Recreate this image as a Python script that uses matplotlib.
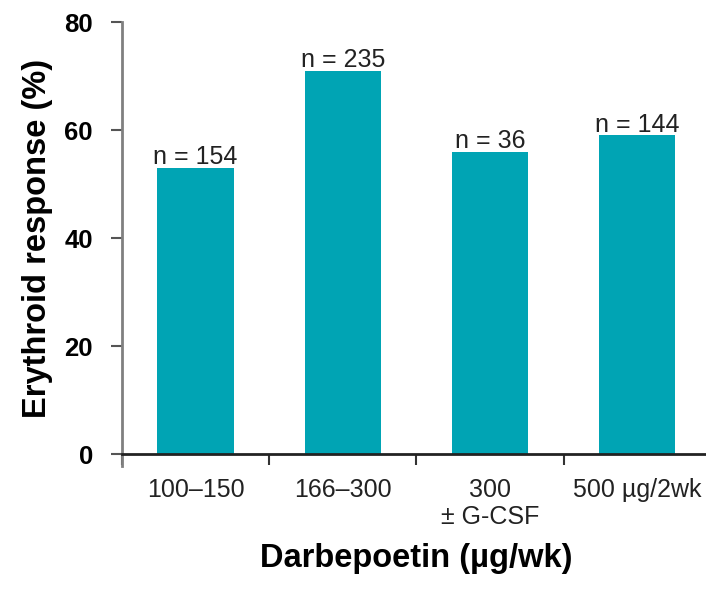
import matplotlib.pyplot as plt
import numpy as np

plt.rcParams['font.family'] = ['Liberation Sans', 'DejaVu Sans']

doses = ["100\u2013150", "166\u2013300", "300\n\u00b1 G-CSF", "500 \u00b5g/2wk"]
response = [53, 71, 56, 59]
n_patients = [154, 235, 36, 144]

bar_color = "#00A4B4"

fig = plt.figure(figsize=(7.06, 5.89), dpi=100)
ax = fig.add_axes([0.1728, 0.2292, 0.834, 0.7334])

x = np.arange(len(doses))
bars = ax.bar(x, response, width=0.52, color=bar_color)

# sample size above each bar
for xi, val, n in zip(x, response, n_patients):
    ax.text(xi, val - 0.2, f"n = {n}", ha="center", va="bottom", fontsize=18, color="#222222")

ax.set_xlim(-0.5, 3.5)
ax.set_ylim(0, 80)
ax.set_yticks([0, 20, 40, 60, 80])
ax.set_yticklabels(["0", "20", "40", "60", "80"], fontsize=18.5, fontweight="bold")

# labels centred under bars, ticks on the category boundaries
ax.set_xticks(x)
ax.set_xticklabels(doses, fontsize=18, color="#222222", va="top", linespacing=1.2)
ax.set_xticks(np.arange(-0.5, 3.5, 1.0), minor=True)
ax.tick_params(axis="x", which="major", length=0, pad=17)
ax.tick_params(axis="x", which="minor", length=8, width=1.5, color="#333333", direction="out")
ax.tick_params(axis="y", length=8, width=1.5, color="#555555", pad=13)

for side in ("top", "right"):
    ax.spines[side].set_visible(False)
ax.spines["left"].set_color("#808080")
ax.spines["left"].set_linewidth(2)
ax.spines["left"].set_bounds(-2.2, 80)
ax.spines["bottom"].set_color("#222222")
ax.spines["bottom"].set_linewidth(2)

ax.set_ylabel("Erythroid response (%)", fontsize=23.5, fontweight="bold", labelpad=8)
ax.set_xlabel("Darbepoetin (\u00b5g/wk)", fontsize=23.5, fontweight="bold", labelpad=10)

fig.savefig("out.png", dpi=100)
